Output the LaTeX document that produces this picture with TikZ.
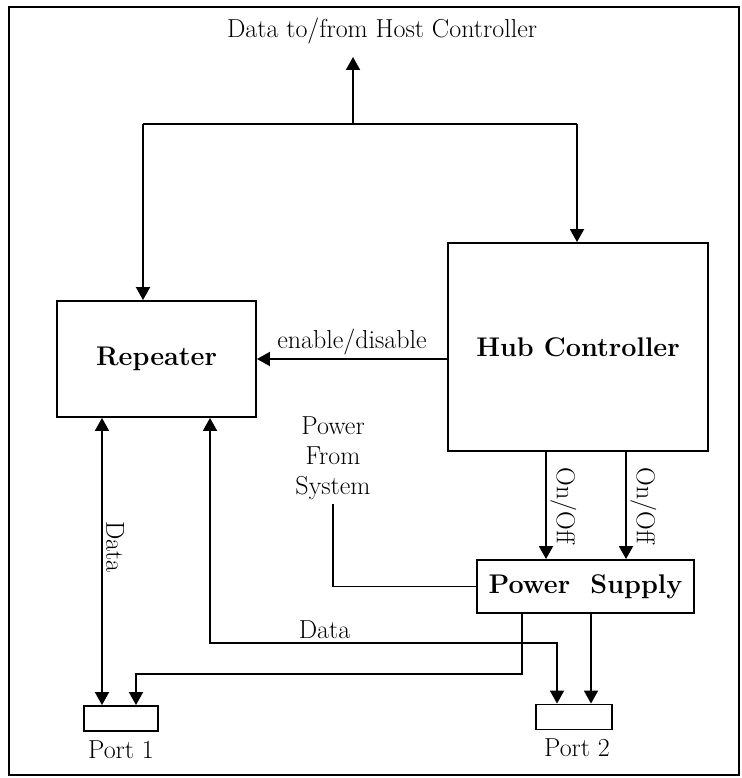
\documentclass[tikz,border=0pt]{standalone}
\usetikzlibrary{positioning, arrows.meta}

\begin{document}
\begin{tikzpicture}[
  x=1pt, y=-1pt,
  line width=1.9pt,
  box/.style={draw, line width=1.9pt, inner sep=0pt, font=\fontsize{27}{30}\selectfont\bfseries},
  lbl/.style={font=\fontsize{26}{30}\selectfont},
  sig/.style={-{Triangle[length=13pt,width=14pt]}},
  both/.style={{Triangle[length=13pt,width=14pt]}-{Triangle[length=13pt,width=14pt]}}
]
\useasboundingbox (0,0) rectangle (741,778);
\draw (9,7) rectangle (739,775);

\node (host) [lbl] at (382,31) {Data to/from Host Controller};

\node (repeater) [box, minimum width=199pt, minimum height=116pt] at (156.5,359) {Repeater};
\node (hub) [box, minimum width=260pt, minimum height=208pt] at (578,347) {Hub Controller};
\node (psu) [box, minimum width=217pt, minimum height=53pt] at (585.5,586.5) {Power\ \ Supply};
\node (port1) [box, minimum width=74pt, minimum height=25pt] at (121,718.5) {};
\node (port2) [box, minimum width=76pt, minimum height=25pt] at (574,717) {};
\node (p1lbl) [lbl, below=4pt of port1] {Port 1};
\node (p2lbl) [lbl, below=4pt of port2, xshift=3pt] {Port 2};
\node (sys) [lbl, align=center] at (333,458) {Power\\From\\System};

\coordinate (bus) at (353,124);
\coordinate (busL) at (143,124);
\coordinate (busR) at (577,124);
\coordinate (hostend) at (353,57);
\coordinate (d2) at (210,643);
\coordinate (d2e) at (557,643);
\coordinate (p1) at (522,674);
\coordinate (p1e) at (136,674);

% host bus
\draw[sig] (bus) -- (hostend);
\draw (busL) -- (busR);
\draw[sig] (busL) -- (busL |- repeater.north);
\draw[sig] (busR) -- (busR |- hub.north);

\draw[sig] (hub.west |- repeater.east) -- node[lbl, above]{enable/disable} (repeater.east);

% on/off lines
\draw[sig] ([xshift=-32pt]hub.south) -- node[lbl, rotate=-90, anchor=south]{On/Off} ([xshift=-32pt]hub.south |- psu.north);
\draw[sig] ([xshift=48pt]hub.south) -- node[lbl, rotate=-90, anchor=south]{On/Off} ([xshift=48pt]hub.south |- psu.north);

\draw (sys.south) |- (psu.west);

% data to the ports
\draw[both] ([xshift=-19pt]port1.north |- repeater.south) -- node[lbl, rotate=-90, anchor=south, pos=0.45]{Data} ([xshift=-19pt]port1.north);
\draw[both] (repeater.south -| d2) -- (d2) -- node[lbl, above, pos=0.33]{Data} (d2e) -- (d2e |- port2.north);

% power to the ports
\draw[sig] (psu.south -| p1) -- (p1) -- (p1e) -- (p1e |- port1.north);
\draw[sig] ([xshift=17pt]port2.north |- psu.south) -- ([xshift=17pt]port2.north);
\end{tikzpicture}
\end{document}
